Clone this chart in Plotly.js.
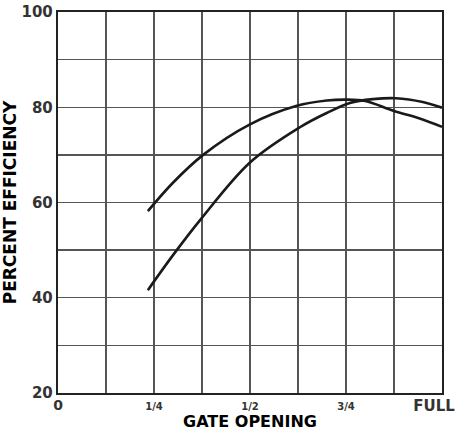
<!DOCTYPE html>
<html><head><meta charset="utf-8">
<script src="https://cdn.plot.ly/plotly-3.0.1.min.js"></script>
<style>body{margin:0;background:#fff}#c{width:457px;height:433px}</style>
</head><body><div id="c"></div>
<script>
// Gate opening (fraction of full) and percent efficiency for the two curves
const gateA = [0.234, 0.30, 0.378, 0.50, 0.622, 0.70, 0.75, 0.80, 0.875, 0.94, 1.0];
const effA  = [58.2, 64.2, 70.0, 76.4, 80.3, 81.4, 81.6, 81.3, 79.2, 77.7, 75.9];
const gateB = [0.234, 0.30, 0.37, 0.50, 0.63, 0.70, 0.76, 0.82, 0.88, 0.95, 1.0];
const effB  = [41.6, 49.0, 56.3, 68.4, 75.8, 78.8, 80.9, 81.7, 81.9, 81.1, 79.9];
const xTickVals = [0, 0.125, 0.25, 0.375, 0.5, 0.625, 0.75, 0.875];
const xTickText = ['0', '', '1/4', '', '1/2', '', '3/4', ''];
const fullTickVals = [1];
const fullTickText = ['FULL'];
const yTickVals = [20, 30, 40, 50, 60, 70, 80, 90, 100];
const yTickText = ['20', '', '40', '', '60', '', '80', '', '100'];

const fmtX = t => t.includes('/') ? '<span style="font-size:10px">' + t + '</span>' : t;
const FONT = '"DejaVu Sans", Lato, sans-serif';
const line = {color: '#1a1a1a', width: 2.6, shape: 'spline', smoothing: 1};
const data = [
  {x: gateA, y: effA, mode: 'lines', line: line, showlegend: false, hoverinfo: 'skip'},
  {x: gateB, y: effB, mode: 'lines', line: line, showlegend: false, hoverinfo: 'skip'},
  {x: [], y: [], xaxis: 'x2', mode: 'lines', showlegend: false, hoverinfo: 'skip'}
];
const tickFont = {family: FONT, size: 15, color: '#333', weight: 'bold'};
const axisCommon = {
  showline: true, linecolor: '#222', linewidth: 2.2, mirror: true,
  showgrid: true, gridcolor: '#555', gridwidth: 1.4,
  zeroline: false, ticks: '', tickmode: 'array',
  tickfont: tickFont
};
const layout = {
  width: 457, height: 433,
  margin: {l: 58, r: 15, t: 12, b: 40},
  paper_bgcolor: '#fff', plot_bgcolor: '#fff',
  xaxis: Object.assign({}, axisCommon, {
    range: [0, 1], tickvals: xTickVals, ticktext: xTickText.map(fmtX),
    tickfont: {family: FONT, size: 14, color: '#333', weight: 'bold'},
    ticklabelstandoff: -2,
    title: {text: 'GATE OPENING', standoff: 0,
            font: {family: FONT, size: 16, color: '#000', weight: 'bold'}}
  }),
  xaxis2: {
    overlaying: 'x', anchor: 'y', side: 'bottom', range: [0, 1],
    showline: false, showgrid: false, zeroline: false, ticks: '',
    tickmode: 'array', tickvals: fullTickVals, ticktext: fullTickText,
    ticklabelshift: -8, ticklabelstandoff: 2, tickfont: tickFont
  },
  yaxis: Object.assign({}, axisCommon, {
    range: [20, 100], tickvals: yTickVals, ticktext: yTickText,
    title: {text: 'PERCENT EFFICIENCY', standoff: 3,
            font: {family: FONT, size: 17, color: '#000', weight: 'bold'}}
  })
};
Plotly.newPlot('c', data, layout, {displayModeBar: false, staticPlot: true});
</script></body></html>
